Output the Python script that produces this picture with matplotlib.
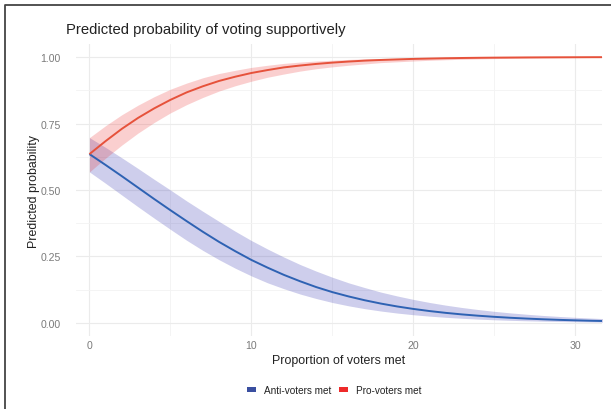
import numpy as np
import matplotlib
matplotlib.use("Agg")
import matplotlib.pyplot as plt
from matplotlib.patches import Patch
from matplotlib.lines import Line2D

plt.rcParams['font.family'] = ['Liberation Sans', 'DejaVu Sans']

# proportion of voters met
met = list(range(0, 33))

# predicted probability, anti-voters met (fit, lower, upper)
anti_fit = [0.635, 0.594, 0.552, 0.509, 0.466, 0.424, 0.383, 0.343, 0.305, 0.270,
            0.237, 0.208, 0.181, 0.157, 0.135, 0.116, 0.0998, 0.0854, 0.0729, 0.0621,
            0.0528, 0.0448, 0.0380, 0.0322, 0.0273, 0.0231, 0.0195, 0.0165, 0.0139, 0.0117,
            0.0099, 0.0083, 0.0070]
anti_lo = [0.568, 0.525, 0.481, 0.437, 0.394, 0.352, 0.311, 0.273, 0.238, 0.206,
           0.177, 0.151, 0.129, 0.109, 0.092, 0.077, 0.0645, 0.0538, 0.0449, 0.0373,
           0.0310, 0.0257, 0.0213, 0.0176, 0.0145, 0.0120, 0.0099, 0.0082, 0.0068, 0.0056,
           0.0046, 0.0038, 0.0031]
anti_hi = [0.697, 0.660, 0.621, 0.581, 0.540, 0.500, 0.459, 0.420, 0.382, 0.345,
           0.310, 0.278, 0.248, 0.220, 0.195, 0.172, 0.151, 0.133, 0.116, 0.1016,
           0.0886, 0.0771, 0.0670, 0.0582, 0.0505, 0.0437, 0.0379, 0.0328, 0.0283, 0.0245,
           0.0212, 0.0183, 0.0158]

# predicted probability, pro-voters met (fit, lower, upper)
pro_fit = [0.635, 0.684, 0.730, 0.771, 0.807, 0.839, 0.867, 0.890, 0.910, 0.926,
           0.940, 0.951, 0.961, 0.968, 0.974, 0.979, 0.983, 0.9865, 0.989, 0.991,
           0.993, 0.9943, 0.9955, 0.9964, 0.9971, 0.9977, 0.9981, 0.9985, 0.9988, 0.9990,
           0.9992, 0.9994, 0.9995]
pro_lo = [0.568, 0.620, 0.669, 0.714, 0.754, 0.790, 0.821, 0.848, 0.872, 0.892,
          0.909, 0.924, 0.936, 0.947, 0.956, 0.963, 0.969, 0.974, 0.979, 0.982,
          0.985, 0.9877, 0.9898, 0.9915, 0.9929, 0.9941, 0.9951, 0.9960, 0.9967, 0.9973,
          0.9978, 0.9982, 0.9985]
pro_hi = [0.697, 0.742, 0.783, 0.819, 0.851, 0.879, 0.902, 0.922, 0.938, 0.950,
          0.961, 0.969, 0.976, 0.981, 0.985, 0.988, 0.991, 0.993, 0.9945, 0.9957,
          0.9967, 0.9974, 0.998, 0.9984, 0.9988, 0.9991, 0.9993, 0.9994, 0.9996, 0.9997,
          0.9997, 0.9998, 0.9998]

x_ticks = [0, 10, 20, 30]
y_ticks = [0.0, 0.25, 0.5, 0.75, 1.0]
y_labels = ['0.00', '0.25', '0.50', '0.75', '1.00']

W, H = 611, 410
fig = plt.figure(figsize=(W / 100, H / 100), dpi=100)
ax = fig.add_axes([76 / W, (H - 337) / H, (602 - 76) / W, (337 - 45) / H])

# bands first, lines on top
ax.fill_between(met, anti_lo, anti_hi, color=(60 / 255, 60 / 255, 180 / 255), alpha=0.25, lw=0)
ax.fill_between(met, pro_lo, pro_hi, color=(235 / 255, 40 / 255, 40 / 255), alpha=0.22, lw=0)
ax.plot(met, anti_fit, color='#2e62b3', lw=1.4, solid_capstyle='butt')
ax.plot(met, pro_fit, color='#e6523b', lw=1.4, solid_capstyle='butt')

ax.set_xlim(-0.83, 31.65)
ax.set_ylim(-0.049, 1.049)
ax.set_xticks(x_ticks)
ax.set_xticks([5, 15, 25], minor=True)
ax.set_yticks(y_ticks)
ax.set_yticklabels(y_labels)
ax.set_yticks([0.125, 0.375, 0.625, 0.875], minor=True)
ax.grid(which='major', color='#ebebeb', lw=0.8)
ax.grid(which='minor', color='#f3f3f3', lw=0.6)
ax.set_axisbelow(True)
for s in ax.spines.values():
    s.set_visible(False)
ax.tick_params(which='both', length=0, labelsize=7.6, labelcolor='#7a7a7a')
ax.tick_params(axis='x', pad=3)
ax.tick_params(axis='y', pad=11)

ax.set_xlabel('Proportion of voters met', fontsize=8.9, color='#222222', labelpad=3)
ax.set_ylabel('Predicted probability', fontsize=8.9, color='#222222', labelpad=0)

fig.text(66 / W, 1 - 30 / H, 'Predicted probability of voting supportively',
         fontsize=10.7, color='#222222', ha='left', va='center')

handles = [Patch(facecolor='#3a4fa0', edgecolor='none', label='Anti-voters met'),
           Patch(facecolor='#ee2a2a', edgecolor='none', label='Pro-voters met')]
fig.legend(handles=handles, loc='center', bbox_to_anchor=(334 / W, 1 - 391 / H),
           ncol=2, frameon=False, fontsize=7.2, handlelength=0.95, handleheight=0.4,
           handletextpad=0.75, columnspacing=0.8, labelcolor='#222222')

# outer frame along the left and top edges
fig.add_artist(Line2D([5 / W, 5 / W, 1], [0, 1 - 6 / H, 1 - 6 / H],
                      transform=fig.transFigure, color='#444444', lw=1.3))

fig.savefig('out.png', dpi=100)
